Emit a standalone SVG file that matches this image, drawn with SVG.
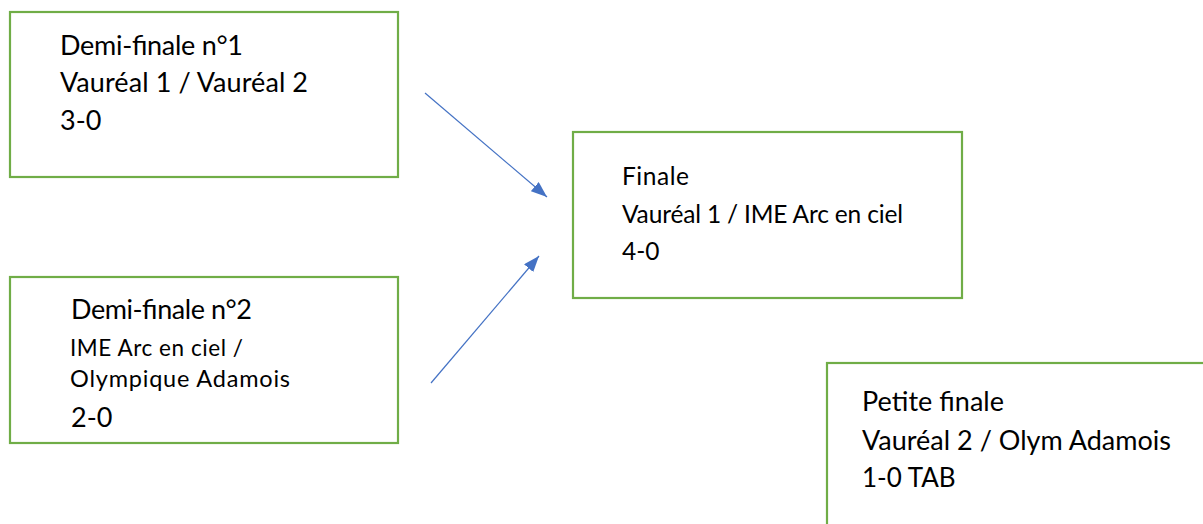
<svg xmlns="http://www.w3.org/2000/svg" width="1203" height="524" viewBox="0 0 1203 524">
  <defs>
    <style>
      .box { fill: #ffffff; stroke: #70AD47; stroke-width: 2.2; }
      .t { font-family: Lato, "Liberation Sans", sans-serif; fill: #000000; }
      .conn { stroke: #4472C4; stroke-width: 1.2; fill: none; }
    </style>
    <marker id="arrow" viewBox="0 0 16 12" refX="16" refY="6" markerWidth="16" markerHeight="12" markerUnits="userSpaceOnUse" orient="auto">
      <path d="M0,0 L16,6 L0,12 z" fill="#4472C4"/>
    </marker>
  </defs>
  <rect width="1203" height="524" fill="#ffffff"/>
  <g id="demi1">
    <rect class="box" x="10" y="12" width="388" height="165"/>
    <text class="t" font-size="27" x="60" y="55" textLength="183">Demi-finale n°1</text>
    <text class="t" font-size="27" x="60" y="92" textLength="248">Vauréal 1 / Vauréal 2</text>
    <text class="t" font-size="27" x="60" y="130">3-0</text>
  </g>
  <g id="demi2">
    <rect class="box" x="10" y="277" width="388" height="166"/>
    <text class="t" font-size="27" x="71" y="319" textLength="181">Demi-finale n°2</text>
    <text class="t" font-size="22.5" x="70" y="356" textLength="173">IME Arc en ciel /</text>
    <text class="t" font-size="23.5" x="70" y="387" textLength="220">Olympique Adamois</text>
    <text class="t" font-size="27" x="71" y="427">2-0</text>
  </g>
  <g id="finale">
    <rect class="box" x="573" y="132" width="389" height="166"/>
    <text class="t" font-size="24.5" x="622" y="185" textLength="67">Finale</text>
    <text class="t" font-size="24.5" x="622" y="223" textLength="281">Vauréal 1 / IME Arc en ciel</text>
    <text class="t" font-size="24.5" x="622" y="260">4-0</text>
  </g>
  <g id="petite-finale">
    <rect class="box" x="827" y="363" width="400" height="200"/>
    <text class="t" font-size="27" x="862" y="411" textLength="142">Petite finale</text>
    <text class="t" font-size="27" x="862" y="450" textLength="309">Vauréal 2 / Olym Adamois</text>
    <text class="t" font-size="26" x="862" y="487">1-0 TAB</text>
  </g>
  <g id="connectors">
    <line class="conn" x1="425" y1="93" x2="547" y2="197" marker-end="url(#arrow)"/>
    <line class="conn" x1="431" y1="383" x2="539" y2="256" marker-end="url(#arrow)"/>
  </g>
</svg>
